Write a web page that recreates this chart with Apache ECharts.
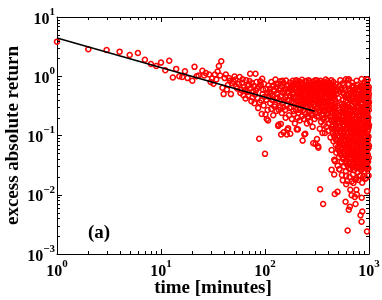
<!DOCTYPE html>
<html><head><meta charset="utf-8">
<script src="https://cdn.jsdelivr.net/npm/echarts@6/dist/echarts.min.js"></script>
<style>html,body{margin:0;padding:0;background:#fff}#c{width:382px;height:300px}</style>
</head><body><div id="c"></div>
<script>
// ---- data: [time (minutes), excess absolute return] ----
const pointsEarly = [[1,3.84],[2,2.85],[3,2.78],[4,2.6],[5,2.29],[6,2.47],[7,1.9],[8,1.61],[9,1.49],[10,1.7],[11,1.26],[12,1.83],[13,0.95],[14,1.33],[15,1.0],[16,0.97],[17,1.21],[18,0.93],[20,0.84],[21,1.44],[22,1.0]];
const pointsMid = [[23,1.03],[25,1.24],[26,1.03],[27,1.13],[29,1.07],[30,0.8],[31,0.92],[32,0.75],[33,1.07],[34,0.88],[35,1.2],[36,1.49],[37,1.03],[38,1.79],[39,0.64],[40,0.5],[41,0.93],[42,1.07],[43,0.6],[44,0.71],[45,0.93],[46,0.84],[47,0.5],[48,0.76],[50,0.81],[51,0.99],[52,0.88],[53,0.67],[54,0.62],[56,0.74],[57,0.97],[58,0.52],[59,0.59],[60,0.78],[61,0.89],[62,0.48],[63,0.66],[64,0.58],[65,0.42],[66,0.86],[67,0.54],[68,0.69],[69,0.47],[70,0.71],[71,0.83],[72,1.1],[73,0.63],[74,0.38],[75,0.77],[76,0.44],[77,0.56],[78,0.68],[79,0.35],[80,0.49],[81,1.1],[82,0.58],[83,0.8],[84,0.62],[85,0.43],[86,0.29],[87,0.66],[88,0.088],[89,0.36],[90,0.82],[91,0.72],[92,0.39],[93,0.23],[94,0.91],[95,0.5],[96,0.59],[97,0.32],[98,0.74],[99,0.45],[100,0.049],[101,0.226],[102,0.61],[103,0.4],[104,0.19],[105,0.52],[106,0.27],[107,0.18],[108,0.7],[109,0.45],[110,0.54]];
const pointsBand = [[112,0.62],[112,0.35],[115,0.8],[115,0.28],[118,0.47],[120,0.7],[120,0.22],[123,0.56],[123,0.31],[126,0.88],[126,0.42],[129,0.26],[129,0.65],[131,0.51],[134,0.145],[134,0.74],[135,0.152],[137,0.38],[137,0.58],[140,0.82],[140,0.3],[142,0.157],[142,0.46],[143,0.104],[145,0.67],[145,0.24],[148,0.53],[148,0.35],[151,0.113],[151,0.77],[153,0.41],[156,0.6],[156,0.27],[159,0.85],[159,0.44],[162,0.104],[162,0.33],[164,0.125],[164,0.55],[167,0.133],[167,0.71],[170,0.39],[170,0.22],[173,0.63],[174,0.78],[175,0.107],[175,0.47],[178,0.3],[178,0.58],[181,0.19],[181,0.68],[185,0.43],[185,0.84],[188,0.26],[188,0.52],[191,0.36],[191,0.74],[194,0.16],[194,0.61],[197,0.45],[200,0.27],[200,0.86],[200,0.55],[202,0.127],[204,0.71],[204,0.38],[207,0.127],[207,0.5],[210,0.72],[210,0.24],[213,0.33],[213,0.64],[216,0.45],[216,0.18],[219,0.58],[219,0.29],[222,0.79],[222,0.4],[225,0.21],[225,0.52],[228,0.66],[228,0.35],[230,0.082],[230,0.44],[233,0.27],[233,0.74],[236,0.57],[236,0.19],[239,0.104],[239,0.39],[242,0.68],[242,0.31],[244,0.107],[244,0.49],[247,0.83],[247,0.23],[250,0.36],[250,0.61],[253,0.16],[253,0.45],[256,0.71],[256,0.29],[259,0.53],[259,0.4],[262,0.21],[262,0.86],[266,0.71],[266,0.34],[268,0.48],[268,0.25],[271,0.62],[271,0.17],[274,0.41],[274,0.78],[277,0.3],[277,0.55],[280,0.69],[280,0.22],[284,0.45],[284,0.36],[287,0.14],[287,0.59],[291,0.074],[291,0.81],[291,0.33],[294,0.5],[294,0.26],[297,0.68],[297,0.4],[300,0.19],[300,0.57],[303,0.31],[303,0.75],[306,0.072],[306,0.47],[310,0.24],[310,0.63],[313,0.37],[313,0.86],[316,0.087],[316,0.52],[320,0.29],[320,0.7],[324,0.066],[324,0.43],[326,0.062],[326,0.6],[330,0.21],[330,0.79],[333,0.35],[333,0.5],[336,0.13],[336,0.67],[339,0.27],[343,0.44],[343,0.84],[346,0.17],[346,0.58],[350,0.32],[350,0.73],[353,0.22],[353,0.48],[357,0.65],[357,0.11],[360,0.38],[360,0.26],[364,0.8],[364,0.54],[368,0.15],[368,0.3],[371,0.61],[371,0.42],[375,0.2],[375,0.74],[377,0.11],[380,0.35],[380,0.52],[384,0.26],[384,0.88],[388,0.76],[388,0.14],[391,0.45],[391,0.31],[395,0.63],[395,0.19],[398,0.39],[398,0.82],[402,0.24],[402,0.55],[406,0.7],[406,0.12],[410,0.34],[410,0.47],[414,0.16],[414,0.6],[418,0.78],[418,0.28],[422,0.42],[422,0.21],[426,0.53],[426,0.093],[430,0.66],[430,0.33],[434,0.25],[434,0.86],[437,0.057],[437,0.45],[440,0.14],[440,0.59]];
const pointsBand2 = [[113,0.5],[117,0.4],[121,0.6],[125,0.33],[128,0.75],[132,0.44],[136,0.27],[139,0.63],[144,0.39],[147,0.84],[150,0.3],[154,0.56],[158,0.2],[161,0.7],[165,0.4],[169,0.53],[172,0.29],[177,0.66],[180,0.37],[183,0.5],[187,0.72],[190,0.23],[193,0.44],[196,0.82],[199,0.34],[203,0.6],[206,0.2],[209,0.43],[212,0.8],[215,0.27],[218,0.5],[221,0.62],[224,0.33],[227,0.87],[231,0.56],[234,0.37],[237,0.48],[240,0.25],[243,0.6],[246,0.42],[249,0.7],[252,0.3],[255,0.52],[258,0.2],[261,0.64],[264,0.44],[267,0.82],[270,0.37],[273,0.53],[276,0.23],[279,0.47],[282,0.63],[285,0.28],[289,0.72],[292,0.42],[296,0.56],[299,0.34],[302,0.85],[305,0.62],[308,0.39],[312,0.53],[315,0.21],[318,0.44],[322,0.77],[325,0.33],[328,0.56],[332,0.42],[335,0.25],[338,0.62],[341,0.36],[345,0.71],[348,0.48],[352,0.29],[355,0.58],[358,0.4],[362,0.19],[366,0.66],[369,0.35],[373,0.5],[378,0.27],[382,0.62],[386,0.42],[390,0.57],[393,0.23],[397,0.5],[400,0.69],[404,0.36],[408,0.58],[412,0.27],[416,0.44],[420,0.65],[424,0.32],[428,0.48],[432,0.18],[436,0.62]];
const pointsDense = [[455,0.8],[530,0.86],[600,0.89],[625,0.86],[690,0.78],[760,0.84],[850,0.9],[944,0.72],[970,0.87],[905,0.8],[560,0.76],[535,0.6],[685,0.65],[855,0.69],[935,0.6],[975,0.56],[640,0.89],[705,0.65],[845,0.7],[950,0.89],
[445,0.7],[480,0.73],[515,0.68],[575,0.71],[640,0.74],[710,0.69],[780,0.72],[830,0.67],[890,0.73],[960,0.7],[995,0.66],
[452,0.62],[470,0.57],[498,0.6],[540,0.63],[592,0.58],[650,0.61],[700,0.56],[745,0.62],[800,0.59],[870,0.63],[915,0.57],[980,0.61],
[448,0.52],[485,0.5],[560,0.53],[610,0.49],[668,0.52],[725,0.54],[790,0.5],[845,0.53],[900,0.49],[950,0.52],[998,0.5],
[462,0.46],[590,0.45],[640,0.43],[700,0.46],[760,0.44],[820,0.47],[880,0.43],[940,0.45],[990,0.44],
[445,0.39],[475,0.37],[600,0.38],[655,0.4],[715,0.37],[770,0.39],[835,0.36],[890,0.4],[955,0.38],[1000,0.36],
[455,0.33],[500,0.32],[548,0.34],[585,0.31],[630,0.33],[690,0.32],[740,0.34],[800,0.31],[860,0.33],[920,0.32],[975,0.34],
[442,0.28],[470,0.29],[520,0.27],[565,0.28],[612,0.29],[660,0.27],[720,0.28],[780,0.29],[840,0.27],[895,0.28],[950,0.29],[995,0.27],
[450,0.24],[490,0.23],[535,0.25],[580,0.24],[630,0.23],[680,0.24],[735,0.25],[795,0.23],[855,0.24],[910,0.25],[965,0.23],
[445,0.21],[478,0.2],[510,0.21],[555,0.2],[600,0.21],[648,0.2],[700,0.21],[755,0.2],[815,0.21],[875,0.2],[930,0.21],[985,0.2],
[460,0.175],[500,0.17],[545,0.18],[590,0.17],[640,0.175],[690,0.18],[745,0.17],[805,0.175],[865,0.18],[920,0.17],[975,0.175],
[448,0.15],[485,0.15],[525,0.145],[570,0.15],[615,0.155],[665,0.15],[715,0.145],[770,0.15],[830,0.155],[890,0.15],[945,0.145],[1000,0.15],
[465,0.13],[505,0.125],[550,0.13],[595,0.128],[645,0.125],[695,0.13],[750,0.127],[810,0.13],[870,0.125],[925,0.13],[980,0.128],
[450,0.11],[490,0.108],[530,0.112],[575,0.11],[620,0.107],[670,0.11],[725,0.113],[785,0.108],[845,0.11],[900,0.112],[955,0.108],
[470,0.095],[515,0.093],[560,0.096],[605,0.094],[655,0.095],[705,0.092],[760,0.096],[820,0.094],[880,0.095],[935,0.093],[990,0.096],
[455,0.08],[495,0.082],[540,0.08],[585,0.081],[630,0.079],[680,0.082],[735,0.08],[795,0.081],[855,0.08],[910,0.082],[965,0.079],
[480,0.069],[525,0.07],[570,0.068],[615,0.07],[665,0.069],[715,0.071],[770,0.068],[830,0.07],[890,0.069],[945,0.07],[998,0.068],
[500,0.059],[548,0.06],[595,0.058],[645,0.06],[695,0.059],[750,0.061],[810,0.058],[870,0.06],[925,0.059],[980,0.06],
[485,0.051],[530,0.05],[580,0.049],[630,0.051],[680,0.05],[730,0.049],[790,0.051],[850,0.05],[905,0.048],[960,0.05],
[515,0.043],[560,0.042],[610,0.044],[660,0.043],[715,0.042],[770,0.044],[830,0.043],[885,0.041],[940,0.043],[995,0.042],
[470,0.037],[545,0.036],[595,0.037],[645,0.035],[700,0.036],[755,0.037],[815,0.035],[870,0.036],[925,0.037],[980,0.036],
[500,0.031],[575,0.03],[625,0.031],[690,0.032],[740,0.03],[800,0.031],[860,0.029],[915,0.031],[965,0.03],
[518,0.027],[600,0.025],[660,0.027],[720,0.026],[780,0.024],[840,0.026],[900,0.025],[955,0.027],
[604,0.021],[650,0.02],[700,0.022],[760,0.019],[820,0.021],[880,0.02],[935,0.019],[990,0.021],
[560,0.0175],[680,0.0168],[790,0.0178],[915,0.0187],[860,0.016],[740,0.018],[620,0.017]];
const pointsDense2 = [[468,0.66],[522,0.55],[583,0.64],[652,0.57],[731,0.6],[812,0.66],[897,0.55],[987,0.58],
[458,0.49],[505,0.43],[575,0.5],[628,0.47],[689,0.41],[748,0.5],[805,0.42],[862,0.48],[925,0.41],[968,0.48],
[470,0.41],[520,0.35],[565,0.4],[620,0.36],[675,0.43],[735,0.35],[795,0.42],[858,0.35],[918,0.43],[985,0.39],
[462,0.3],[510,0.29],[555,0.31],[598,0.26],[645,0.3],[700,0.26],[752,0.31],[818,0.25],[878,0.3],[935,0.26],[992,0.31],
[465,0.26],[512,0.22],[560,0.26],[607,0.225],[662,0.26],[712,0.22],[765,0.24],[828,0.22],[885,0.26],[942,0.22],
[455,0.19],[522,0.19],[570,0.185],[622,0.195],[670,0.16],[725,0.19],[780,0.165],[840,0.19],[900,0.165],[958,0.19],
[475,0.16],[515,0.165],[562,0.14],[605,0.165],[655,0.14],[710,0.16],[760,0.137],[820,0.162],[880,0.138],[940,0.16],[995,0.14],
[442,0.128],[482,0.118],[530,0.12],[578,0.119],[625,0.135],[675,0.118],[730,0.121],[790,0.119],[850,0.134],[910,0.119],[968,0.117],
[460,0.1],[508,0.101],[545,0.088],[590,0.1],[640,0.086],[690,0.101],[740,0.087],[800,0.102],[860,0.087],[920,0.101],[975,0.087],
[475,0.087],[520,0.076],[565,0.086],[610,0.074],[660,0.075],[710,0.085],[765,0.075],[825,0.087],[885,0.076],[950,0.086],
[505,0.065],[555,0.063],[600,0.065],[650,0.064],[700,0.066],[755,0.063],[815,0.065],[875,0.063],[935,0.066],[990,0.063],
[520,0.054],[570,0.055],[620,0.053],[670,0.055],[720,0.054],[780,0.055],[840,0.053],[895,0.055],[950,0.054],
[540,0.047],[590,0.046],[640,0.047],[695,0.045],[750,0.047],[805,0.046],[865,0.047],[920,0.045],[975,0.047],
[565,0.04],[615,0.039],[670,0.04],[725,0.039],[785,0.04],[845,0.039],[900,0.04],[955,0.039],
[600,0.034],[650,0.033],[710,0.034],[765,0.033],[825,0.034],[880,0.033],[945,0.034],
[640,0.028],[700,0.029],[760,0.028],[815,0.029],[875,0.028],[930,0.029],[985,0.028]];
const pointsLow = [[437,0.0265],[463,0.022],[549,0.0215],[463,0.039],[518,0.027],[339,0.0124],[362,0.007],[469,0.0103],[498,0.0112],[604,0.015],[708,0.0158],[661,0.0121],[756,0.0121],[680,0.0098],[765,0.0101],[730,0.0092],[851,0.0089],[595,0.0076],[742,0.007],[655,0.0063],[640,0.0056],[862,0.0052],[829,0.0045],[848,0.0035],[623,0.00249],[956,0.0024],[958,0.0115]];
// fitted power-law line endpoints
const lineTime = [1, 300];
const lineValue = [4.43, 0.256];
// axis ranges and minor tick values
const xRange = [1, 1000];
const yRange = [0.001, 10];
const xMinorTicks = [2,3,4,5,6,7,8,9,20,30,40,50,60,70,80,90,200,300,400,500,600,700,800,900];
const yMinorTicks = [0.002,0.003,0.004,0.005,0.006,0.007,0.008,0.009,0.02,0.03,0.04,0.05,0.06,0.07,0.08,0.09,0.2,0.3,0.4,0.5,0.6,0.7,0.8,0.9,2,3,4,5,6,7,8,9];

const SERIF = '"Liberation Serif","Times New Roman","DejaVu Serif",serif';
const chart = echarts.init(document.getElementById('c'), null, {renderer:'canvas'});
const scatterData = pointsEarly.concat(pointsMid, pointsBand, pointsBand2, pointsDense, pointsDense2, pointsLow);
const lineData = lineTime.map((t,i)=>[t, lineValue[i]]);
function powLabel(v){
  const e = Math.round(Math.log10(v));
  const s = e < 0 ? '\u2212' + (-e) : String(e);
  return '{b|10}{s|' + s + '}';
}
const rich = {
  b:{fontFamily:SERIF, fontWeight:'bold', fontSize:16, color:'#000', padding:[5,0,0,0]},
  s:{fontFamily:SERIF, fontWeight:'bold', fontSize:11, color:'#000', verticalAlign:'top'}
};
const axLine = {show:true, lineStyle:{color:'#000', width:1}};
const axTick = {show:true, inside:true, length:5, lineStyle:{color:'#000', width:1}};
function tickLine(x1,y1,x2,y2){
  return {type:'line', shape:{x1:x1,y1:y1,x2:x2,y2:y2}, style:{stroke:'#000', lineWidth:1}};
}
const option = {
  animation:false,
  backgroundColor:'#fff',
  grid:{left:57, right:13, top:17, bottom:46, containLabel:false, outerBoundsMode:'none'},
  xAxis:[
    {type:'log', logBase:10, min:xRange[0], max:xRange[1], position:'bottom',
     name:'time [minutes]', nameLocation:'middle', nameGap:25, nameMoveOverlap:false,
     nameTextStyle:{fontFamily:SERIF, fontWeight:'bold', fontSize:19, color:'#000'},
     axisLine:axLine, axisTick:axTick, splitLine:{show:false}, minorTick:{show:false},
     axisLabel:{margin:5, formatter:powLabel, rich:rich}},
    {type:'log', logBase:10, min:xRange[0], max:xRange[1], position:'top',
     axisLine:axLine, axisTick:axTick, splitLine:{show:false}, axisLabel:{show:false}}
  ],
  yAxis:[
    {type:'log', logBase:10, min:yRange[0], max:yRange[1], position:'left',
     name:'excess absolute return', nameLocation:'middle', nameGap:34, nameMoveOverlap:false,
     nameTextStyle:{fontFamily:SERIF, fontWeight:'bold', fontSize:19, color:'#000'},
     axisLine:axLine, axisTick:axTick, splitLine:{show:false},
     axisLabel:{margin:2, formatter:powLabel, rich:rich}},
    {type:'log', logBase:10, min:yRange[0], max:yRange[1], position:'right',
     axisLine:axLine, axisTick:axTick, splitLine:{show:false}, axisLabel:{show:false}}
  ],
  series:[
    {type:'scatter', xAxisIndex:0, yAxisIndex:0, data:scatterData, symbol:'circle', symbolSize:5,
     clip:false, itemStyle:{color:'rgba(255,255,255,0)', borderColor:'#ff0000', borderWidth:1.5, opacity:1},
     emphasis:{disabled:true}, z:2},
    {type:'line', xAxisIndex:0, yAxisIndex:0, data:lineData, symbol:'none',
     lineStyle:{color:'#000', width:1.6}, z:3, emphasis:{disabled:true}},
    {type:'custom', xAxisIndex:0, yAxisIndex:0, data:xMinorTicks.map(v=>[v,1]), encode:{x:0,y:1}, clip:false, z:4,
     renderItem:function(params, api){
       const b = api.coord([api.value(0), yRange[0]]);
       const t = api.coord([api.value(0), yRange[1]]);
       const x = Math.round(b[0]) + 0.5;
       return {type:'group', children:[tickLine(x,b[1],x,b[1]-3), tickLine(x,t[1],x,t[1]+3)]};
     }},
    {type:'custom', xAxisIndex:0, yAxisIndex:0, data:yMinorTicks.map(v=>[1,v]), encode:{x:0,y:1}, clip:false, z:4,
     renderItem:function(params, api){
       const l = api.coord([xRange[0], api.value(1)]);
       const r = api.coord([xRange[1], api.value(1)]);
       const y = Math.round(l[1]) + 0.5;
       return {type:'group', children:[tickLine(l[0],y,l[0]+3,y), tickLine(r[0],y,r[0]-3,y)]};
     }}
  ],
  graphic:[
    {type:'text', left:88, top:224, style:{text:'(a)', font:'bold 19px ' + SERIF, fill:'#000'}}
  ]
};
chart.setOption(option);
</script>
</body></html>
